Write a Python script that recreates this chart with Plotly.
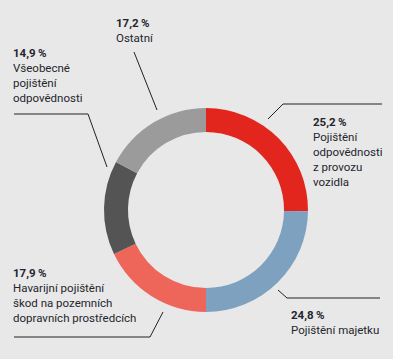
import plotly.graph_objects as go

categories = ["Pojištění odpovědnosti z provozu vozidla", "Pojištění majetku",
              "Havarijní pojištění škod na pozemních dopravních prostředcích",
              "Všeobecné pojištění odpovědnosti", "Ostatní"]
values = [25.2, 24.8, 17.9, 14.9, 17.2]
value_labels = ["25,2\u2009%", "24,8\u2009%", "17,9\u2009%", "14,9\u2009%", "17,2\u2009%"]
label_lines = [["Pojištění", "odpovědnosti", "z provozu", "vozidla"],
               ["Pojištění majetku"],
               ["Havarijní pojištění", "škod na pozemních", "dopravních prostředcích"],
               ["Všeobecné", "pojištění", "odpovědnosti"],
               ["Ostatní"]]
colors = ["#e3261d", "#7ea1bf", "#ee665a", "#545454", "#9b9b9b"]

W, H = 397, 359
def px(x):
    return x / W
def py(y):
    return 1 - y / H

cx, cy, r = 206, 210, 102

fig = go.Figure(go.Pie(
    labels=categories, values=values, sort=False, direction="clockwise",
    rotation=0, hole=0.765, textinfo="none", hoverinfo="label+percent",
    marker=dict(colors=colors, line=dict(width=0)),
    domain=dict(x=[px(cx - r), px(cx + r)], y=[py(cy + r), py(cy - r)]),
    showlegend=False,
))

# label anchor (left x, top y) in pixels and leader polylines
label_pos = [(312, 114), (290, 307), (12, 265), (12, 45), (115, 15)]
leaders = [[(382, 104), (283, 104), (268, 119)],
           [(380, 298), (287, 298), (278, 290)],
           [(14, 337), (150, 337), (163, 312)],
           [(14, 114), (88, 114), (107, 167)],
           [(134, 52), (157, 110)]]

text_color = "#25252d"
annotations = []
for i in range(len(values)):
    x, y = label_pos[i]
    txt = "<b>" + value_labels[i] + "</b><br>" + "<br>".join(label_lines[i])
    annotations.append(dict(
        x=px(x), y=py(y), xref="paper", yref="paper", xanchor="left", yanchor="top",
        align="left", showarrow=False, text=txt, borderpad=0,
        font=dict(family="Roboto", size=11.5, color=text_color)))

shapes = [dict(type="rect", xref="paper", yref="paper", x0=px(393), x1=1, y0=0, y1=1,
               fillcolor="#ffffff", line=dict(width=0), layer="below")]
for pts in leaders:
    path = "M " + " L ".join(f"{px(a)},{py(b)}" for a, b in pts)
    shapes.append(dict(type="path", xref="paper", yref="paper", path=path,
                       line=dict(color="#222222", width=1)))

fig.update_layout(
    width=W, height=H, margin=dict(l=0, r=0, t=0, b=0),
    paper_bgcolor="#e8e8e8", plot_bgcolor="#e8e8e8",
    annotations=annotations, shapes=shapes,
)

fig.write_html("out.html", config={"displayModeBar": False},
               post_script="document.body.style.margin='0';document.body.style.overflow='hidden';")
